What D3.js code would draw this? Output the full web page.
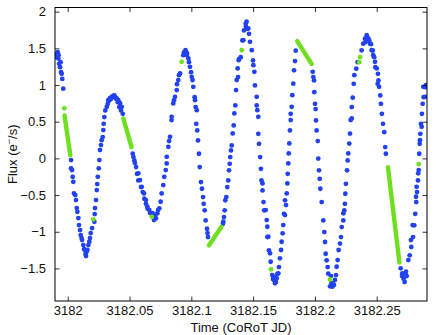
<!DOCTYPE html>
<html>
<head>
	<meta charset="utf-8">
	<title>Flux</title>
	<script type="text/javascript" src="https://cdn.jsdelivr.net/npm/d3@7"></script>
	<style>
		body {
			margin: 0;
			background: #fff;
		}
		svg text {
			font-family: "Liberation Sans", Arial, Helvetica, sans-serif;
		}
	</style>
</head>

<body>

	<div id="chart"></div>

	<script>

	// data

	const blueTime = [
		3181.9897, 3181.9905, 3181.9911, 3181.9919, 3181.9924, 3181.9926, 3181.9930, 3181.9938, 3181.9942, 3181.9946, 3181.9951, 3181.9956, 3181.9964,
		3182.0027, 3182.0027, 3182.0035, 3182.0040, 3182.0045, 3182.0051, 3182.0061, 3182.0067, 3182.0073, 3182.0078, 3182.0086, 3182.0091, 3182.0100,
		3182.0105, 3182.0112, 3182.0116, 3182.0126, 3182.0132, 3182.0140, 3182.0144, 3182.0148, 3182.0152, 3182.0159, 3182.0167, 3182.0175, 3182.0180,
		3182.0186, 3182.0197, 3182.0215, 3182.0218, 3182.0221, 3182.0229, 3182.0235, 3182.0239, 3182.0243, 3182.0251, 3182.0256,
		3182.0261, 3182.0269, 3182.0275, 3182.0283, 3182.0288, 3182.0291, 3182.0296, 3182.0304, 3182.0316, 3182.0324, 3182.0328, 3182.0337, 3182.0342,
		3182.0350, 3182.0356, 3182.0364, 3182.0369, 3182.0377, 3182.0383, 3182.0391, 3182.0396, 3182.0405, 3182.0409, 3182.0417, 3182.0423, 3182.0431,
		3182.0437, 3182.0445,
		3182.0526, 3182.0532, 3182.0539, 3182.0544, 3182.0553, 3182.0561, 3182.0571, 3182.0571, 3182.0585, 3182.0593, 3182.0599, 3182.0607, 3182.0617,
		3182.0620, 3182.0633, 3182.0633, 3182.0644, 3182.0647, 3182.0660, 3182.0666, 3182.0686, 3182.0698, 3182.0706, 3182.0714, 3182.0725, 3182.0731,
		3182.0741, 3182.0752, 3182.0760, 3182.0773, 3182.0781, 3182.0793, 3182.0801, 3182.0801,
		3182.0814, 3182.0820, 3182.0828, 3182.0840, 3182.0841, 3182.0854, 3182.0860, 3182.0868, 3182.0882, 3182.0884, 3182.0895, 3182.0900, 3182.0909,
		3182.0935, 3182.0941, 3182.0949, 3182.0953, 3182.0963, 3182.0965, 3182.0976, 3182.0981, 3182.0989, 3182.0998, 3182.1003, 3182.1010, 3182.1016,
		3182.1027, 3182.1030, 3182.1035, 3182.1040, 3182.1044, 3182.1048, 3182.1054, 3182.1062, 3182.1068,
		3182.1078, 3182.1086, 3182.1095, 3182.1100, 3182.1108, 3182.1116, 3182.1127, 3182.1131, 3182.1135,
		3182.1256, 3182.1259, 3182.1264, 3182.1270, 3182.1275, 3182.1283, 3182.1291, 3182.1299, 3182.1305, 3182.1311, 3182.1315, 3182.1321, 3182.1327,
		3182.1335, 3182.1343, 3182.1348, 3182.1356, 3182.1362, 3182.1367, 3182.1375, 3182.1378, 3182.1383, 3182.1388, 3182.1400, 3182.1413, 3182.1421,
		3182.1426, 3182.1440, 3182.1442, 3182.1447, 3182.1453, 3182.1461, 3182.1467, 3182.1475, 3182.1489, 3182.1499, 3182.1502, 3182.1510, 3182.1515,
		3182.1529, 3182.1529, 3182.1534, 3182.1542, 3182.1542, 3182.1548, 3182.1557, 3182.1563, 3182.1568, 3182.1576, 3182.1576, 3182.1584, 3182.1590,
		3182.1602, 3182.1610, 3182.1615, 3182.1615, 3182.1623, 3182.1628, 3182.1637, 3182.1642,
		3182.1655, 3182.1661, 3182.1669, 3182.1673, 3182.1677, 3182.1685, 3182.1691, 3182.1696, 3182.1704, 3182.1709, 3182.1717, 3182.1726, 3182.1731,
		3182.1739, 3182.1744, 3182.1750, 3182.1758, 3182.1758, 3182.1766, 3182.1772, 3182.1777, 3182.1780, 3182.1785, 3182.1788, 3182.1793, 3182.1798,
		3182.1804, 3182.1804, 3182.1812, 3182.1817, 3182.1825, 3182.1831, 3182.1839, 3182.1845,
		3182.1982, 3182.1987, 3182.1993, 3182.1995, 3182.2001, 3182.2006, 3182.2009, 3182.2014, 3182.2023, 3182.2027, 3182.2033, 3182.2039, 3182.2044,
		3182.2055, 3182.2068, 3182.2076, 3182.2082, 3182.2087, 3182.2095, 3182.2103, 3182.2108,
		3182.2122, 3182.2130, 3182.2134, 3182.2141, 3182.2146, 3182.2154, 3182.2162, 3182.2171, 3182.2176, 3182.2184, 3182.2192, 3182.2203, 3182.2211,
		3182.2217, 3182.2230, 3182.2230, 3182.2238, 3182.2243, 3182.2246, 3182.2251, 3182.2260, 3182.2265, 3182.2270, 3182.2278, 3182.2284, 3182.2289,
		3182.2298, 3182.2298, 3182.2306, 3182.2314, 3182.2319, 3182.2335, 3182.2346,
		3182.2378, 3182.2391, 3182.2405, 3182.2409, 3182.2419, 3182.2425, 3182.2432, 3182.2440, 3182.2446, 3182.2454, 3182.2459, 3182.2468, 3182.2472,
		3182.2480, 3182.2486, 3182.2489, 3182.2500, 3182.2508, 3182.2510, 3182.2514, 3182.2519, 3182.2529, 3182.2534, 3182.2542, 3182.2551, 3182.2561,
		3182.2569, 3182.2574,
		3182.2694, 3182.2705, 3182.2707, 3182.2718, 3182.2726, 3182.2731, 3182.2737, 3182.2743, 3182.2756, 3182.2767, 3182.2777, 3182.2780, 3182.2791,
		3182.2794, 3182.2804, 3182.2812, 3182.2818, 3182.2820, 3182.2823, 3182.2826, 3182.2834, 3182.2836, 3182.2840, 3182.2844, 3182.2848, 3182.2850,
		3182.2853, 3182.2858, 3182.2864, 3182.2866, 3182.2872, 3182.2877, 3182.2880, 3182.2891, 3182.2893, 3182.2899
	];

	const blueFlux = [
		1.384, 1.421, 1.380, 1.448, 1.362, 1.407, 1.289, 1.244, 1.312, 1.176, 1.153, 1.084, 0.951,
		-0.023, -0.136, -0.159, -0.251, -0.319, -0.477, -0.500, -0.568, -0.677, -0.728, -0.813, -0.909, -0.977,
		-1.045, -1.086, -1.113, -1.181, -1.236, -1.249, -1.304, -1.331, -1.277, -1.249, -1.181, -1.136, -1.086,
		-1.018, -0.950, -0.864, -0.759, -0.677, -0.568, -0.432, -0.350, -0.251, -0.136, -0.023,
		0.113, 0.181, 0.249, 0.290, 0.386, 0.471, 0.563, 0.654, 0.703, 0.744, 0.794, 0.790, 0.822,
		0.812, 0.839, 0.835, 0.853, 0.858, 0.839, 0.812, 0.817, 0.767, 0.794, 0.699, 0.753, 0.654,
		0.703, 0.608,
		0.063, 0.018, -0.027, -0.064, -0.119, -0.210, -0.204, -0.300, -0.296, -0.391, -0.387, -0.459, -0.477,
		-0.550, -0.568, -0.619, -0.659, -0.687, -0.704, -0.745, -0.745, -0.841, -0.786, -0.817, -0.749, -0.704,
		-0.681, -0.591, -0.477, -0.364, -0.251, -0.159, -0.068, 0.022,
		0.158, 0.236, 0.294, 0.522, 0.567, 0.749, 0.794, 0.839, 0.931, 1.012, 1.067, 1.135, 1.158,
		1.407, 1.448, 1.431, 1.475, 1.407, 1.435, 1.362, 1.312, 1.248, 1.176, 1.112, 1.067, 0.975,
		0.835, 0.794, 0.699, 0.471, 0.658, 0.381, 0.245, 0.063, -0.119,
		-0.323, -0.414, -0.527, -0.619, -0.708, -0.845, -0.959, -1.018, -1.072,
		-0.891, -0.864, -0.800, -0.708, -0.572, -0.527, -0.391, -0.300, -0.163, -0.074, 0.018, 0.109, 0.177,
		0.341, 0.450, 0.613, 0.722, 0.931, 1.067, 1.226, 1.108, 1.339, 1.357, 1.380, 1.608, 1.612,
		1.744, 1.834, 1.793, 1.864, 1.766, 1.771, 1.698, 1.589, 1.475, 1.335, 1.271, 1.180, 0.995,
		0.839, 0.722, 0.658, 0.567, 0.335, 0.199, 0.018, -0.142, -0.300, -0.341, -0.436, -0.595, -0.708,
		-0.704, -0.841, -0.932, -1.072, -1.068, -1.253, -1.294, -1.409,
		-1.590, -1.644, -1.658, -1.617, -1.703, -1.685, -1.635, -1.576, -1.567, -1.481, -1.362, -1.249, -1.136,
		-1.022, -0.909, -0.755, -0.772, -0.572, -0.636, -0.477, -0.341, -0.210, -0.068, 0.068, 0.204, 0.381,
		0.522, 0.608, 0.703, 0.862, 1.019, 1.200, 1.326, 1.469,
		1.180, 1.108, 1.063, 0.903, 0.744, 0.672, 0.518, 0.381, 0.236, -0.003, -0.163, -0.278, -0.414,
		-0.595, -0.845, -1.004, -1.140, -1.300, -1.390, -1.481, -1.572,
		-1.744, -1.604, -1.699, -1.749, -1.713, -1.726, -1.658, -1.590, -1.477, -1.386, -1.249, -1.161, -1.072,
		-0.936, -0.845, -0.749, -0.708, -0.619, -0.482, -0.346, -0.163, -0.027, 0.068, 0.202, 0.338, 0.522,
		0.545, 0.699, 0.828, 1.016, 1.135, 1.223, 1.312,
		1.473, 1.564, 1.632, 1.584, 1.680, 1.639, 1.635, 1.608, 1.564, 1.557, 1.475, 1.471, 1.407,
		1.380, 1.316, 1.244, 1.226, 1.016, 1.153, 1.063, 0.975, 0.858, 0.744, 0.608, 0.471, 0.358,
		0.154, 0.063,
		-1.499, -1.604, -1.567, -1.640, -1.685, -1.572, -1.545, -1.604, -1.386, -1.322, -1.113, -1.208, -0.909,
		-1.072, -0.913, -0.755, -0.523, -0.595, -0.387, -0.459, -0.300, -0.204, -0.159, 0.063, 0.199, 0.249,
		0.335, 0.471, 0.431, 0.608, 0.744, 0.975, 0.835, 0.839, 0.971, 0.998
	];

	// single green samples
	const greenDotTime = [3181.9972, 3182.0207, 3182.0680, 3182.0922, 3182.1408, 3182.1645, 3182.2122, 3182.2359, 3182.2365, 3182.2840];
	const greenDotFlux = [0.683, -0.831, -0.796, 1.316, 1.475, -1.512, -1.651, 1.312, 1.380, -0.078];

	// green runs (start -> end)
	const greenRunStartTime = [3181.9974, 3182.0450, 3182.1143, 3182.1857, 3182.2591];
	const greenRunStartFlux = [0.586, 0.545, -1.185, 1.598, -0.119];
	const greenRunEndTime   = [3182.0021, 3182.0516, 3182.1244, 3182.1974, 3182.2684];
	const greenRunEndFlux   = [0.041, 0.154, -0.932, 1.287, -1.420];

	const xTicks = [3182, 3182.05, 3182.1, 3182.15, 3182.2, 3182.25];
	const xTickLabels = ["3182", "3182.05", "3182.1", "3182.15", "3182.2", "3182.25"];
	const yTicks = [-1.5, -1, -0.5, 0, 0.5, 1, 1.5, 2];
	const yTickLabels = ["\u22121.5", "\u22121", "\u22120.5", "0", "0.5", "1", "1.5", "2"];

	// layout

	const width    = 436;
	const height   = 335;
	const margin   = { top: 7.5, right: 9, bottom: 34, left: 55 };
	const fontSize = 13;
	const blue     = "#2242ef";
	const green    = "#6ee01f";
	const tickLen  = 4.5;
	const dotR     = 2.4;

	const svg = d3.select('#chart')
		.append('svg:svg')
		.attr("width", width)
		.attr("height", height)
		.attr("viewBox", [0, 0, width, height]);

	const x = d3.scaleLinear()
		.domain([3181.9897, 3182.2907])
		.range([margin.left, width - margin.right]);

	const y = d3.scaleLinear()
		.domain([-1.944, 2.057])
		.range([height - margin.bottom, margin.top]);

	svg.append("clipPath")
		.attr("id", "plotclip")
		.append("rect")
		.attr("x", margin.left)
		.attr("y", margin.top)
		.attr("width", width - margin.left - margin.right)
		.attr("height", height - margin.top - margin.bottom);

	const plot = svg.append("g").attr("clip-path", "url(#plotclip)");

	plot.append("g")
		.selectAll("circle")
		.data(d3.range(blueTime.length))
		.join("circle")
		.attr("cx", i => x(blueTime[i]))
		.attr("cy", i => y(blueFlux[i]))
		.attr("r", dotR)
		.attr("fill", blue);

	plot.append("g")
		.selectAll("line")
		.data(d3.range(greenRunStartTime.length))
		.join("line")
		.attr("x1", i => x(greenRunStartTime[i]))
		.attr("y1", i => y(greenRunStartFlux[i]))
		.attr("x2", i => x(greenRunEndTime[i]))
		.attr("y2", i => y(greenRunEndFlux[i]))
		.attr("stroke", green)
		.attr("stroke-width", 4.4)
		.attr("stroke-linecap", "round");

	plot.append("g")
		.selectAll("circle")
		.data(d3.range(greenDotTime.length))
		.join("circle")
		.attr("cx", i => x(greenDotTime[i]))
		.attr("cy", i => y(greenDotFlux[i]))
		.attr("r", dotR)
		.attr("fill", green);

	// axes, matlab style: inward ticks on all four sides

	const xAxisBottom = d3.axisBottom(x)
		.tickValues(xTicks)
		.tickFormat((d, i) => xTickLabels[i])
		.tickSizeInner(-tickLen)
		.tickSizeOuter(0)
		.tickPadding(5);

	const xAxisTop = d3.axisTop(x)
		.tickValues(xTicks)
		.tickFormat("")
		.tickSizeInner(-tickLen)
		.tickSizeOuter(0);

	const yAxisLeft = d3.axisLeft(y)
		.tickValues(yTicks)
		.tickFormat((d, i) => yTickLabels[i])
		.tickSizeInner(-tickLen)
		.tickSizeOuter(0)
		.tickPadding(9);

	const yAxisRight = d3.axisRight(y)
		.tickValues(yTicks)
		.tickFormat("")
		.tickSizeInner(-tickLen)
		.tickSizeOuter(0);

	const axes = [
		[xAxisBottom, `translate(0,${height - margin.bottom})`],
		[xAxisTop, `translate(0,${margin.top})`],
		[yAxisLeft, `translate(${margin.left},0)`],
		[yAxisRight, `translate(${width - margin.right},0)`]
	];

	axes.forEach(([axis, tr]) => {
		const g = svg.append("g")
			.attr("transform", tr)
			.call(axis);
		g.select(".domain").remove();
		g.selectAll("line").attr("stroke", "#000").attr("stroke-width", 0.8);
		g.selectAll("text")
			.attr("fill", "#111")
			.style("font-size", fontSize + "px")
			.style("font-family", "'Liberation Sans', Arial, sans-serif");
	});

	svg.append("rect")
		.attr("x", margin.left)
		.attr("y", margin.top)
		.attr("width", width - margin.left - margin.right)
		.attr("height", height - margin.top - margin.bottom)
		.attr("fill", "none")
		.attr("stroke", "#000")
		.attr("stroke-width", 1);

	svg.append("text")
		.attr("x", (margin.left + width - margin.right) / 2)
		.attr("y", height - 3)
		.attr("text-anchor", "middle")
		.attr("fill", "#111")
		.style("font-size", fontSize + "px")
		.text("Time (CoRoT JD)");

	const ylab = svg.append("text")
		.attr("transform", `translate(17,${(margin.top + height - margin.bottom) / 2}) rotate(-90)`)
		.attr("text-anchor", "middle")
		.attr("fill", "#111")
		.style("font-size", fontSize + "px");

	ylab.append("tspan").text("Flux (e");
	ylab.append("tspan")
		.attr("dy", -5)
		.style("font-size", "9px")
		.text("\u2212");
	ylab.append("tspan")
		.attr("dy", 5)
		.text("/s)");

	</script>

</body>

</html>
